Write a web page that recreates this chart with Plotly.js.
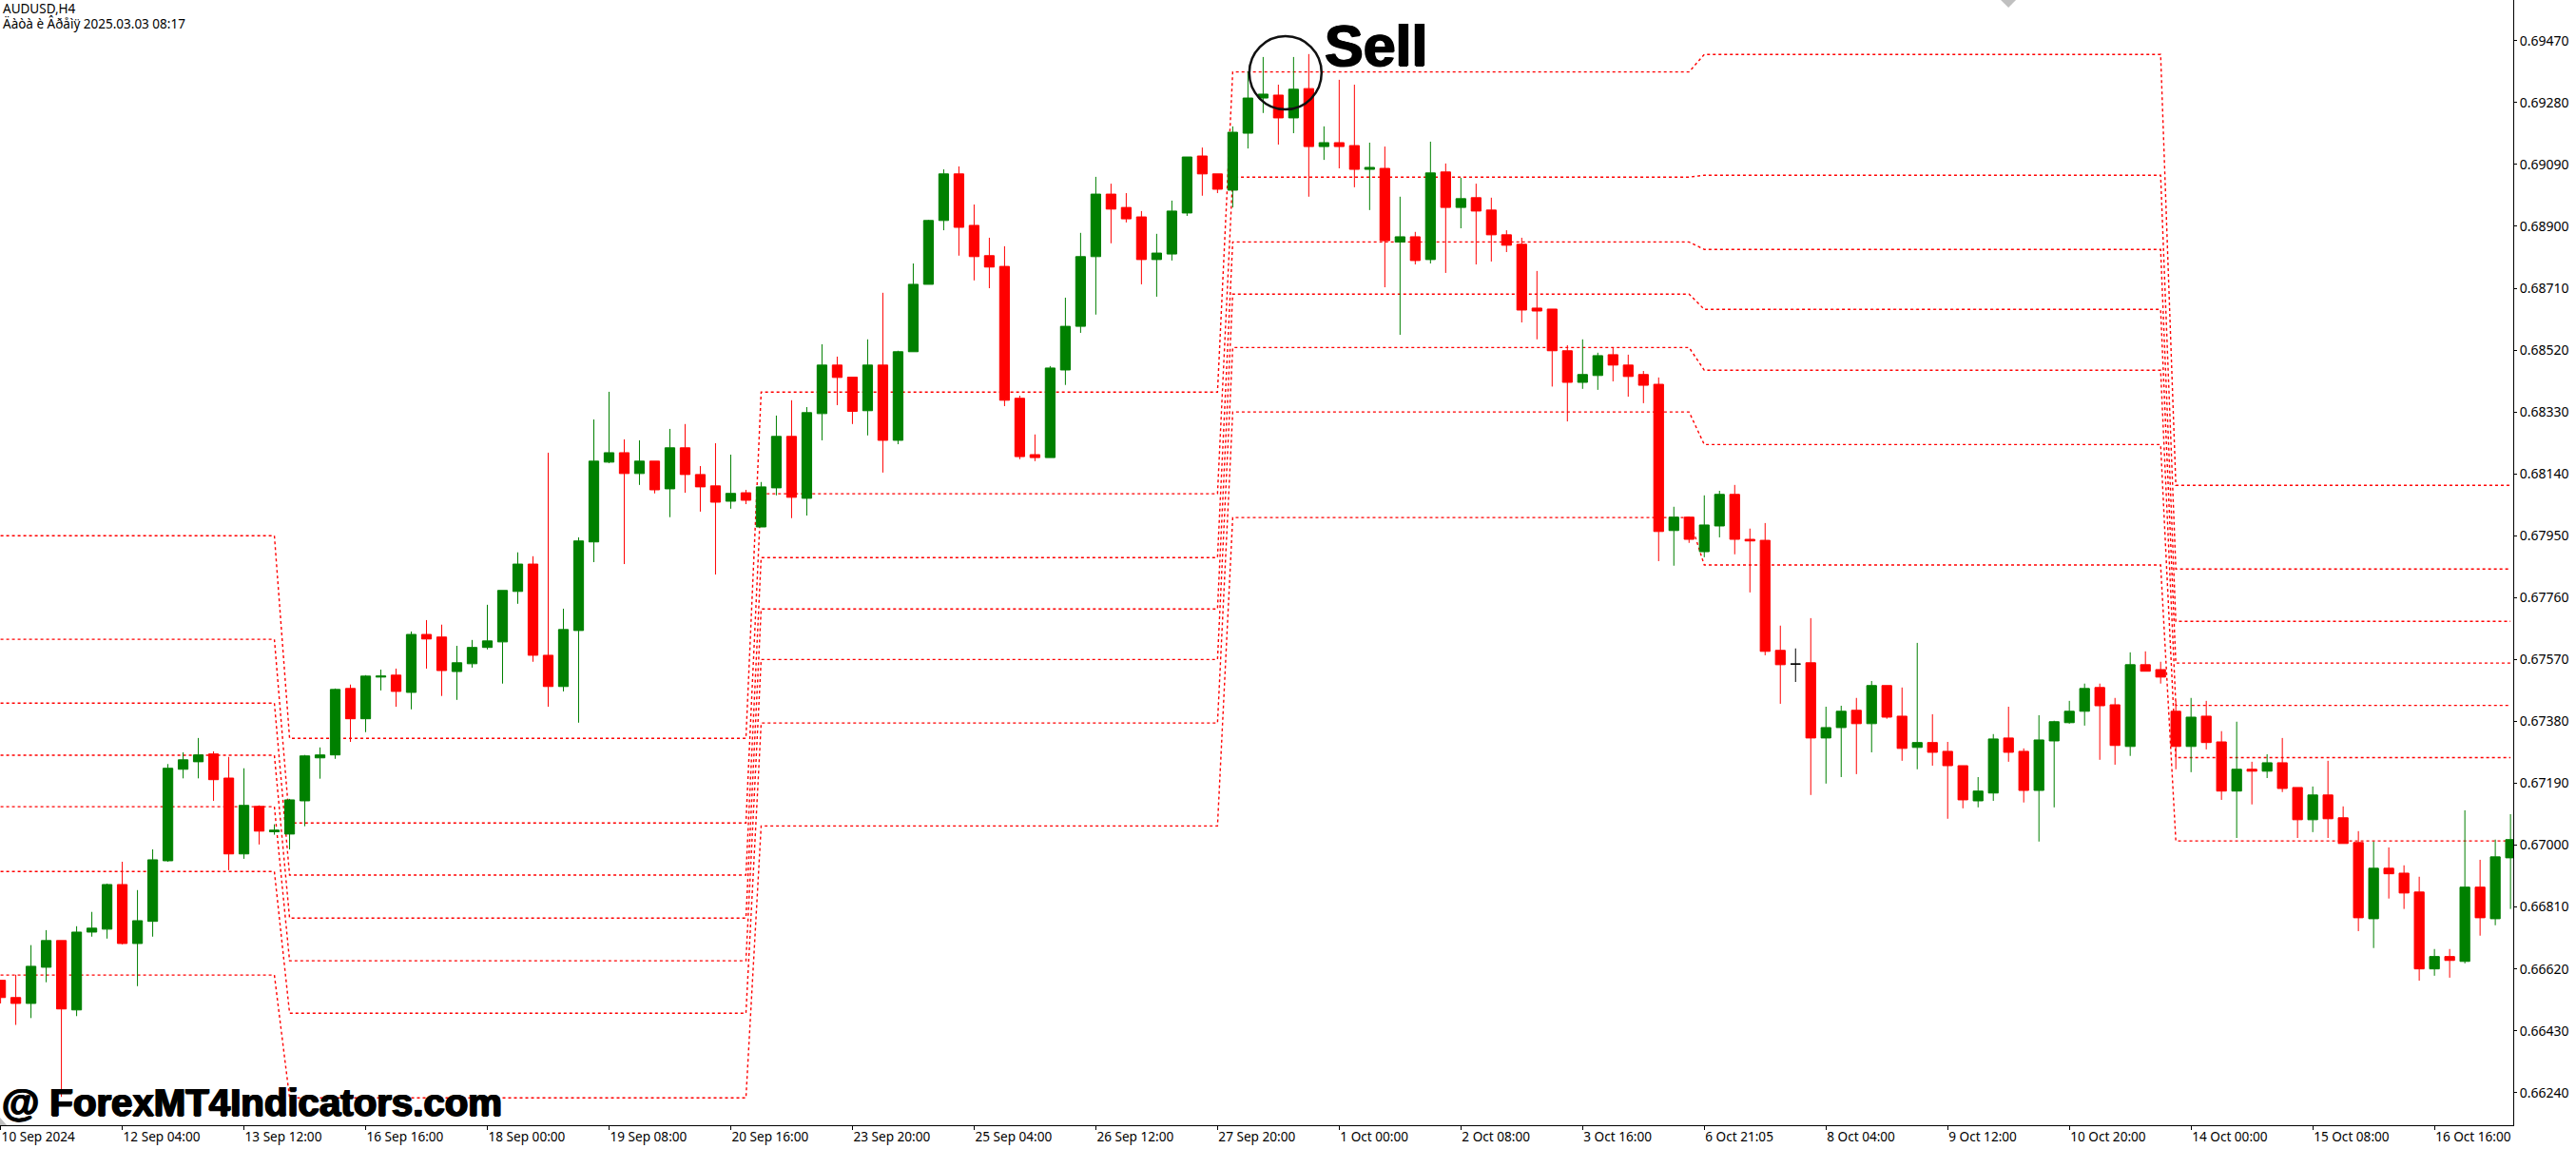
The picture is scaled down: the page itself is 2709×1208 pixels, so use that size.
<!DOCTYPE html>
<html><head><meta charset="utf-8">
<script src="https://cdn.plot.ly/plotly-3.0.1.min.js"></script>
<style>html,body{margin:0;padding:0;background:#fff}#chart{width:2709px;height:1208px}</style>
</head><body><div id="chart"></div>
<script>
const open_=[0.66585,0.66532,0.66514,0.66625,0.66707,0.66494,0.66733,0.66742,0.66879,0.66698,
0.66766,0.66952,0.67233,0.67256,0.67280,0.67206,0.66973,0.67119,0.67041,0.67034,
0.67136,0.67268,0.67277,0.67481,0.67388,0.67516,0.67522,0.67469,0.67647,0.67639,
0.67533,0.67557,0.67607,0.67624,0.67779,0.67863,0.67583,0.67487,0.67659,0.67931,
0.68176,0.68205,0.68141,0.68179,0.68094,0.68220,0.68138,0.68103,0.68056,0.68082,
0.67977,0.68097,0.68255,0.68065,0.68325,0.68474,0.68437,0.68334,0.68474,0.68243,
0.68515,0.68722,0.68918,0.69061,0.68903,0.68810,0.68777,0.68372,0.68199,0.68190,
0.68459,0.68593,0.68807,0.68999,0.68958,0.68929,0.68798,0.68815,0.68941,0.69116,
0.69061,0.69011,0.69186,0.69294,0.69303,0.69233,0.69323,0.69145,0.69157,0.69148,
0.69075,0.69078,0.68852,0.68868,0.68798,0.69067,0.68958,0.68988,0.68950,0.68874,
0.68845,0.68649,0.68646,0.68518,0.68421,0.68442,0.68506,0.68474,0.68445,0.68415,
0.67966,0.68007,0.67901,0.67980,0.68077,0.67939,0.67936,0.67598,0.67556,0.67560,
0.67329,0.67361,0.67414,0.67373,0.67490,0.67396,0.67300,0.67315,0.67288,0.67244,
0.67136,0.67160,0.67329,0.67288,0.67168,0.67320,0.67376,0.67411,0.67484,0.67431,
0.67303,0.67554,0.67539,0.67411,0.67303,0.67396,0.67317,0.67166,0.67233,0.67227,
0.67253,0.67177,0.67078,0.67154,0.67084,0.67008,0.66774,0.66929,0.66914,0.66856,
0.66620,0.66658,0.66643,0.66871,0.66774,0.66961];
const close_=[0.66532,0.66514,0.66628,0.66707,0.66497,0.66733,0.66745,0.66879,0.66698,0.66768,
0.66955,0.67236,0.67262,0.67277,0.67201,0.66973,0.67122,0.67043,0.67046,0.67139,
0.67274,0.67277,0.67478,0.67388,0.67519,0.67519,0.67472,0.67647,0.67633,0.67536,
0.67560,0.67607,0.67627,0.67782,0.67863,0.67583,0.67487,0.67662,0.67934,0.68179,
0.68205,0.68141,0.68179,0.68091,0.68220,0.68138,0.68100,0.68053,0.68080,0.68059,
0.68100,0.68255,0.68068,0.68328,0.68474,0.68436,0.68332,0.68474,0.68243,0.68515,
0.68722,0.68918,0.69061,0.68897,0.68807,0.68775,0.68366,0.68193,0.68190,0.68465,
0.68593,0.68807,0.68999,0.68953,0.68923,0.68798,0.68818,0.68947,0.69113,0.69061,
0.69014,0.69189,0.69294,0.69306,0.69233,0.69321,0.69145,0.69157,0.69145,0.69075,
0.69081,0.68856,0.68868,0.68795,0.69064,0.68958,0.68985,0.68947,0.68874,0.68842,
0.68643,0.68640,0.68518,0.68421,0.68445,0.68503,0.68474,0.68439,0.68412,0.67963,
0.68007,0.67939,0.67983,0.68077,0.67939,0.67934,0.67595,0.67554,0.67556,0.67329,
0.67361,0.67411,0.67373,0.67490,0.67393,0.67297,0.67315,0.67285,0.67244,0.67139,
0.67166,0.67326,0.67285,0.67168,0.67323,0.67379,0.67411,0.67481,0.67428,0.67306,
0.67554,0.67534,0.67516,0.67303,0.67393,0.67315,0.67166,0.67233,0.67227,0.67253,
0.67174,0.67078,0.67154,0.67081,0.67005,0.66777,0.66929,0.66912,0.66853,0.66620,
0.66658,0.66646,0.66871,0.66777,0.66964,0.67017];
const high_=[0.66585,0.66602,0.66693,0.66739,0.66707,0.66751,0.66795,0.66882,0.66949,0.66862,
0.66987,0.67249,0.67285,0.67329,0.67288,0.67271,0.67236,0.67122,0.67064,0.67142,
0.67277,0.67300,0.67481,0.67493,0.67522,0.67539,0.67542,0.67656,0.67691,0.67677,
0.67612,0.67630,0.67738,0.67782,0.67899,0.67887,0.68205,0.67726,0.67945,0.68307,
0.68392,0.68246,0.68243,0.68179,0.68278,0.68293,0.68164,0.68234,0.68199,0.68091,
0.68115,0.68319,0.68366,0.68345,0.68538,0.68500,0.68437,0.68553,0.68696,0.68518,
0.68786,0.68920,0.69075,0.69084,0.68967,0.68865,0.68839,0.68380,0.68261,0.68471,
0.68681,0.68880,0.69052,0.69031,0.69002,0.68947,0.68877,0.68979,0.69113,0.69142,
0.69061,0.69207,0.69376,0.69420,0.69335,0.69420,0.69429,0.69207,0.69350,0.69335,
0.69157,0.69145,0.68991,0.68883,0.69160,0.69093,0.69049,0.69031,0.68988,0.68888,
0.68865,0.68763,0.68646,0.68535,0.68553,0.68512,0.68529,0.68506,0.68456,0.68436,
0.68039,0.68009,0.68074,0.68088,0.68106,0.67972,0.67989,0.67674,0.67604,0.67697,
0.67425,0.67428,0.67452,0.67504,0.67490,0.67484,0.67621,0.67402,0.67317,0.67244,
0.67209,0.67341,0.67425,0.67297,0.67399,0.67382,0.67443,0.67496,0.67496,0.67452,
0.67592,0.67595,0.67563,0.67443,0.67452,0.67443,0.67350,0.67379,0.67256,0.67279,
0.67329,0.67177,0.67180,0.67259,0.67119,0.67043,0.67011,0.66993,0.66938,0.66903,
0.66681,0.66681,0.67107,0.66955,0.67017,0.67095];
const low_=[0.66514,0.66448,0.66469,0.66579,0.66227,0.66475,0.66719,0.66713,0.66695,0.66567,
0.66719,0.66949,0.67205,0.67205,0.67136,0.66923,0.66958,0.67002,0.67032,0.66987,
0.67058,0.67204,0.67265,0.67317,0.67347,0.67475,0.67425,0.67417,0.67542,0.67458,
0.67446,0.67545,0.67601,0.67496,0.67741,0.67563,0.67425,0.67472,0.67376,0.67869,
0.68173,0.67863,0.68106,0.68080,0.68007,0.68082,0.68024,0.67831,0.68033,0.68047,
0.67977,0.68074,0.68004,0.68012,0.68243,0.68351,0.68293,0.68258,0.68144,0.68231,
0.68515,0.68722,0.68888,0.68810,0.68734,0.68710,0.68348,0.68185,0.68179,0.68190,
0.68413,0.68573,0.68629,0.68848,0.68912,0.68722,0.68684,0.68795,0.68932,0.68994,
0.69002,0.68958,0.69139,0.69248,0.69151,0.69186,0.68991,0.69104,0.69078,0.69020,
0.68950,0.68713,0.68567,0.68783,0.68786,0.68757,0.68894,0.68783,0.68792,0.68821,
0.68605,0.68553,0.68408,0.68301,0.68401,0.68398,0.68424,0.68377,0.68357,0.67872,
0.67858,0.67928,0.67884,0.67945,0.67893,0.67776,0.67583,0.67434,0.67501,0.67154,
0.67189,0.67209,0.67218,0.67285,0.67388,0.67259,0.67233,0.67244,0.67081,0.67113,
0.67116,0.67136,0.67256,0.67131,0.67011,0.67116,0.67373,0.67367,0.67262,0.67247,
0.67274,0.67534,0.67496,0.67233,0.67224,0.67294,0.67139,0.67022,0.67125,0.67206,
0.67163,0.67022,0.67040,0.67022,0.67005,0.66736,0.66684,0.66836,0.66804,0.66584,
0.66599,0.66593,0.66637,0.66722,0.66754,0.66804];
const dojiBars=[118];

const tickBars=[0,8,16,24,32,40,48,56,64,72,80,88,96,104,112,120,128,136,144,152,160];
const tickLabels=["10 Sep 2024","12 Sep 04:00","13 Sep 12:00","16 Sep 16:00","18 Sep 00:00","19 Sep 08:00","20 Sep 16:00","23 Sep 20:00","25 Sep 04:00","26 Sep 12:00","27 Sep 20:00","1 Oct 00:00","2 Oct 08:00","3 Oct 16:00","6 Oct 21:05","8 Oct 04:00","9 Oct 12:00","10 Oct 20:00","14 Oct 00:00","15 Oct 08:00","16 Oct 16:00"];
const priceTicks=[0.66240,0.66430,0.66620,0.66810,0.67000,0.67190,0.67380,0.67570,0.67760,0.67950,0.68140,0.68330,0.68520,0.68710,0.68900,0.69090,0.69280,0.69470];

// indicator levels: held flat between each pair of breakpoint bars
const levelBars=[0,18,19,49,50,80,81,111,112,142,143,165];
const level1=[0.67950,0.67950,0.67328,0.67328,0.68391,0.68391,0.69374,0.69374,0.69428,0.69428,0.68105,0.68105];
const level2=[0.67632,0.67632,0.67068,0.67068,0.68079,0.68079,0.69051,0.69051,0.69057,0.69057,0.67848,0.67848];
const level3=[0.67436,0.67436,0.66908,0.66908,0.67883,0.67883,0.68852,0.68852,0.68829,0.68829,0.67687,0.67687];
const level4=[0.67276,0.67276,0.66776,0.66776,0.67725,0.67725,0.68692,0.68692,0.68645,0.68645,0.67559,0.67559];
const level5=[0.67118,0.67118,0.66645,0.66645,0.67570,0.67570,0.68528,0.68528,0.68458,0.68458,0.67429,0.67429];
const level6=[0.66919,0.66919,0.66484,0.66484,0.67375,0.67375,0.68330,0.68330,0.68230,0.68230,0.67269,0.67269];
const level7=[0.66601,0.66601,0.66224,0.66224,0.67059,0.67059,0.68006,0.68006,0.67860,0.67860,0.67013,0.67013];
const levels=[level1,level2,level3,level4,level5,level6,level7];

const xRange=[-0.0375,165.18];
const yRange=[0.66140,0.69595];
const bars=open_.map((_,i)=>i);
const isDoji=i=>dojiBars.includes(i);
const keep=bars.filter(i=>!isDoji(i));
const pick=(a,ids)=>ids.map(i=>a[i]);

const traces=levels.map(l=>({type:'scatter',mode:'lines',x:levelBars,y:l,xaxis:'x',yaxis:'y',
  line:{color:'#ff0000',width:1.4,dash:'3px,3px'},hoverinfo:'skip',showlegend:false}));
traces.push({type:'candlestick',x:keep,open:pick(open_,keep),high:pick(high_,keep),low:pick(low_,keep),close:pick(close_,keep),
  xaxis:'x2',yaxis:'y2',whiskerwidth:0,
  increasing:{line:{color:'#008000',width:1},fillcolor:'#008000'},
  decreasing:{line:{color:'#ff0000',width:1},fillcolor:'#ff0000'},hoverinfo:'skip',showlegend:false});
traces.push({type:'candlestick',x:dojiBars,open:pick(open_,dojiBars),high:pick(high_,dojiBars),low:pick(low_,dojiBars),close:pick(close_,dojiBars),
  xaxis:'x2',yaxis:'y2',whiskerwidth:0,
  increasing:{line:{color:'#000000',width:1},fillcolor:'#000000'},
  decreasing:{line:{color:'#000000',width:1},fillcolor:'#000000'},hoverinfo:'skip',showlegend:false});

const tf={family:'"Noto Sans",sans-serif',size:14,color:'#000'};
const tfx={family:'"Noto Sans",sans-serif',size:13.6,color:'#000'};
const heavy='1px 0 0 #000, -1px 0 0 #000, 0 1px 0 #000';
const layout={
  width:2709,height:1208,paper_bgcolor:'#fff',plot_bgcolor:'#fff',showlegend:false,
  margin:{l:0,r:65.5,t:0,b:24.7,pad:0},boxmode:'overlay',boxgap:0.36,boxgroupgap:0,
  xaxis:{type:'linear',range:xRange,showgrid:false,zeroline:false,showline:true,linecolor:'#000',linewidth:1,
    tickmode:'array',tickvals:tickBars,ticktext:tickLabels,ticks:'outside',ticklen:4,tickcolor:'#000',tickwidth:1,
    tickfont:tfx,ticklabelposition:'outside right',rangeslider:{visible:false},fixedrange:true},
  yaxis:{type:'linear',range:yRange,side:'right',showgrid:false,zeroline:false,showline:true,linecolor:'#000',linewidth:1,
    tickmode:'array',tickvals:priceTicks,ticktext:priceTicks.map(v=>v.toFixed(5)),ticks:'outside',ticklen:3,tickcolor:'#000',tickwidth:1,
    tickfont:tf,fixedrange:true},
  xaxis2:{type:'linear',range:xRange,overlaying:'x',visible:false,rangeslider:{visible:false},fixedrange:true},
  yaxis2:{type:'linear',range:yRange,overlaying:'y',visible:false,fixedrange:true},
  shapes:[
    {type:'circle',xref:'x',yref:'y',x0:82.09,x1:86.84,y0:0.69259,y1:0.69484,line:{color:'#111',width:2.5},fillcolor:'rgba(0,0,0,0)'},
    {type:'path',xref:'paper',yref:'paper',path:'M0.79609,1 L0.80214,1 L0.79914,0.99324 Z',fillcolor:'#c0c0c0',line:{width:0}},
    {type:'path',xref:'paper',yref:'paper',path:'M0,0.0068 L0.0027,0 L0,0 Z',fillcolor:'#c0c0c0',line:{width:0}}
  ],
  annotations:[
    {text:'AUDUSD,H4',xref:'paper',yref:'paper',x:0.0005,y:0.9922,xanchor:'left',yanchor:'middle',showarrow:false,font:{family:'"Noto Sans",sans-serif',size:13.5,color:'#000'}},
    {text:'Äàòà è Âðåìÿ 2025.03.03 08:17',xref:'paper',yref:'paper',x:0.0005,y:0.9785,xanchor:'left',yanchor:'middle',showarrow:false,font:{family:'"Noto Sans",sans-serif',size:13.5,color:'#000'}},
    {text:'Sell',xref:'paper',yref:'paper',x:0.5262,y:0.9594,xanchor:'left',yanchor:'middle',showarrow:false,font:{family:'"Liberation Sans",sans-serif',size:61,color:'#000',weight:700,shadow:heavy}},
    {text:'@ ForexMT4Indicators.com',xref:'paper',yref:'paper',x:0,y:0.0197,xanchor:'left',yanchor:'middle',showarrow:false,font:{family:'"Liberation Sans",sans-serif',size:40.2,color:'#000',weight:700,shadow:heavy}}
  ]
};
Plotly.newPlot('chart',traces,layout,{displayModeBar:false,staticPlot:true});
</script></body></html>
